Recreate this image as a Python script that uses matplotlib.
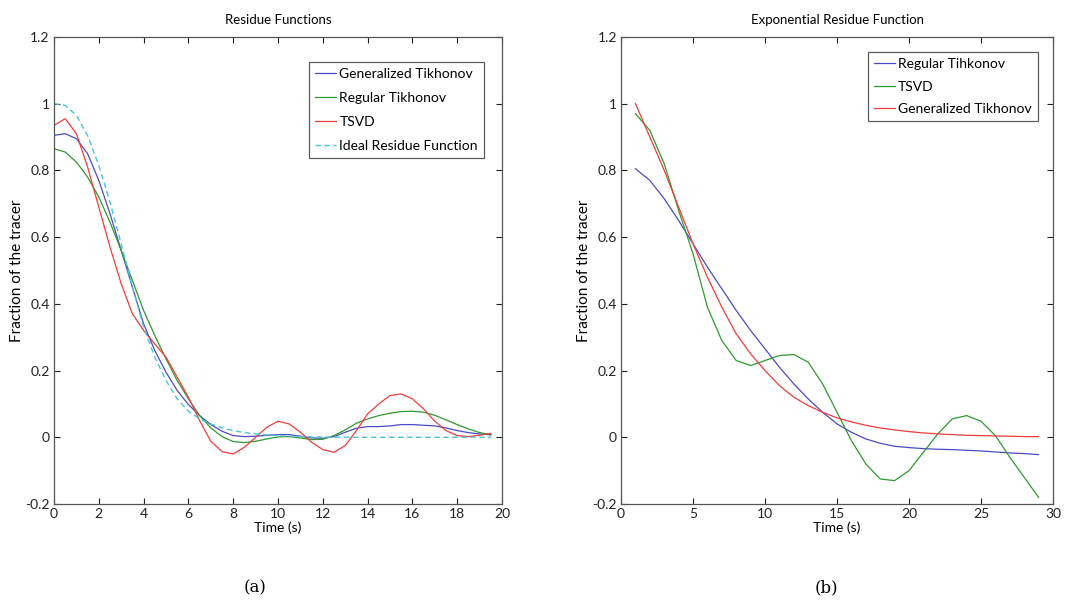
import numpy as np
import matplotlib.pyplot as plt
from matplotlib.ticker import FuncFormatter

plt.rcParams['font.family'] = ['Lato', 'DejaVu Sans']
plt.rcParams['axes.unicode_minus'] = False

# Panel (a): residue functions, sampled every 0.5 s
t_a = np.arange(0, 20, 0.5)
gen_tik_a = [0.905, 0.91, 0.895, 0.85, 0.77, 0.67, 0.56, 0.45, 0.34, 0.26,
             0.195, 0.14, 0.098, 0.065, 0.038, 0.018, 0.005, 0.002, 0.003, 0.006,
             0.008, 0.008, 0.003, -0.002, -0.003, 0.002, 0.015, 0.027, 0.032, 0.032,
             0.034, 0.038, 0.038, 0.036, 0.034, 0.028, 0.02, 0.014, 0.01, 0.007]
reg_tik_a = [0.865, 0.855, 0.825, 0.78, 0.72, 0.645, 0.56, 0.47, 0.38, 0.305,
             0.235, 0.17, 0.115, 0.065, 0.028, 0.002, -0.013, -0.016, -0.012, -0.005,
             0.001, 0.002, -0.002, -0.007, -0.006, 0.005, 0.022, 0.042, 0.055, 0.065,
             0.072, 0.077, 0.078, 0.075, 0.066, 0.052, 0.038, 0.025, 0.014, 0.008]
tsvd_a = [0.935, 0.955, 0.91, 0.81, 0.69, 0.57, 0.46, 0.37, 0.32, 0.28,
          0.24, 0.18, 0.12, 0.05, -0.012, -0.043, -0.05, -0.03, 0.0, 0.03,
          0.048, 0.04, 0.015, -0.015, -0.037, -0.045, -0.025, 0.02, 0.07, 0.1,
          0.125, 0.13, 0.115, 0.085, 0.048, 0.02, 0.005, 0.002, 0.006, 0.012]
ideal_a = [1.0, 0.995, 0.965, 0.905, 0.815, 0.705, 0.58, 0.45, 0.33, 0.24,
           0.17, 0.115, 0.078, 0.055, 0.04, 0.028, 0.02, 0.014, 0.01, 0.007,
           0.005, 0.003, 0.002, 0.001, 0.001, 0.0, 0.0, 0.0, 0.0, 0.0,
           0.0, 0.0, 0.0, 0.0, 0.0, 0.0, 0.0, 0.0, 0.0, 0.0]

# Panel (b): exponential residue function, sampled every 1 s
t_b = np.arange(1, 30)
reg_tik_b = [0.805, 0.77, 0.715, 0.65, 0.58, 0.51, 0.445, 0.38, 0.32, 0.265,
             0.21, 0.16, 0.115, 0.075, 0.04, 0.015, -0.005, -0.018, -0.027, -0.031,
             -0.034, -0.036, -0.037, -0.039, -0.041, -0.044, -0.047, -0.049, -0.052]
tsvd_b = [0.97, 0.92, 0.82, 0.68, 0.55, 0.39, 0.29, 0.23, 0.215, 0.23,
          0.245, 0.248, 0.225, 0.16, 0.075, -0.01, -0.08, -0.125, -0.13, -0.10,
          -0.045, 0.01, 0.055, 0.065, 0.048, 0.005, -0.06, -0.12, -0.18]
gen_tik_b = [1.0, 0.9, 0.8, 0.69, 0.58, 0.48, 0.39, 0.31, 0.25, 0.2,
             0.155, 0.12, 0.095, 0.075, 0.058, 0.046, 0.036, 0.028, 0.022, 0.017,
             0.013, 0.01, 0.008, 0.006, 0.005, 0.004, 0.003, 0.002, 0.002]

blue = '#4b4bc8'
green = '#2f9a2f'
red = '#f23c3c'
cyan = '#4cc4d8'

fig = plt.figure(figsize=(10.78, 6.04), dpi=100)
ax1 = fig.add_axes([0.0501, 0.1656, 0.4156, 0.7732])
ax2 = fig.add_axes([0.5761, 0.1656, 0.4007, 0.7732])

ax1.plot(t_a, gen_tik_a, color=blue, lw=0.9, label='Generalized Tikhonov')
ax1.plot(t_a, reg_tik_a, color=green, lw=0.9, label='Regular Tikhonov')
ax1.plot(t_a, tsvd_a, color=red, lw=0.9, label='TSVD')
ax1.plot(t_a, ideal_a, color=cyan, lw=1.0, ls=(0, (4, 2.5)), label='Ideal Residue Function')
ax1.set_xlim(0, 20)
ax1.set_xticks(np.arange(0, 21, 2))
ax1.set_title('Residue Functions', fontsize=9.5, pad=9)

ax2.plot(t_b, reg_tik_b, color=blue, lw=0.9, label='Regular Tihkonov')
ax2.plot(t_b, tsvd_b, color=green, lw=0.9, label='TSVD')
ax2.plot(t_b, gen_tik_b, color=red, lw=0.9, label='Generalized Tikhonov')
ax2.set_xlim(0, 30)
ax2.set_xticks(np.arange(0, 31, 5))
ax2.set_title('Exponential Residue Function', fontsize=9.5, pad=9)

fmt = FuncFormatter(lambda v, p: '%g' % round(v, 2))
for ax in (ax1, ax2):
    ax.set_ylim(-0.2, 1.2)
    ax.set_yticks(np.arange(-0.2, 1.21, 0.2))
    ax.yaxis.set_major_formatter(fmt)
    ax.tick_params(direction='in', top=True, right=True, length=4, width=0.8,
                   labelsize=10, colors='#222222', pad=3)
    for s in ax.spines.values():
        s.set_color('#555555')
        s.set_linewidth(0.9)
    ax.set_xlabel('Time (s)', fontsize=10, labelpad=1)
    ax.set_ylabel('Fraction of the tracer', fontsize=11, labelpad=1)

# legend boxes placed where they sit in the original
legend_spots = {ax1: (484 / 1078, (604 - 62) / 604), ax2: (1038 / 1078, (604 - 52) / 604)}
spacing = {ax1: 0.86, ax2: 0.75}
for ax, spot in legend_spots.items():
    leg = ax.legend(loc='upper right', bbox_to_anchor=spot, bbox_transform=fig.transFigure,
                    fontsize=10, frameon=True, fancybox=False, borderaxespad=0,
                    handlelength=1.5, handletextpad=0.25, borderpad=0.45,
                    labelspacing=spacing[ax])
    leg.get_frame().set_edgecolor('#333333')
    leg.get_frame().set_linewidth(0.9)

fig.text(0.2365, 0.027, '(a)', ha='center', va='center', fontsize=12, family='DejaVu Serif')
fig.text(0.767, 0.027, '(b)', ha='center', va='center', fontsize=12, family='DejaVu Serif')

fig.savefig('out.png', dpi=100)
